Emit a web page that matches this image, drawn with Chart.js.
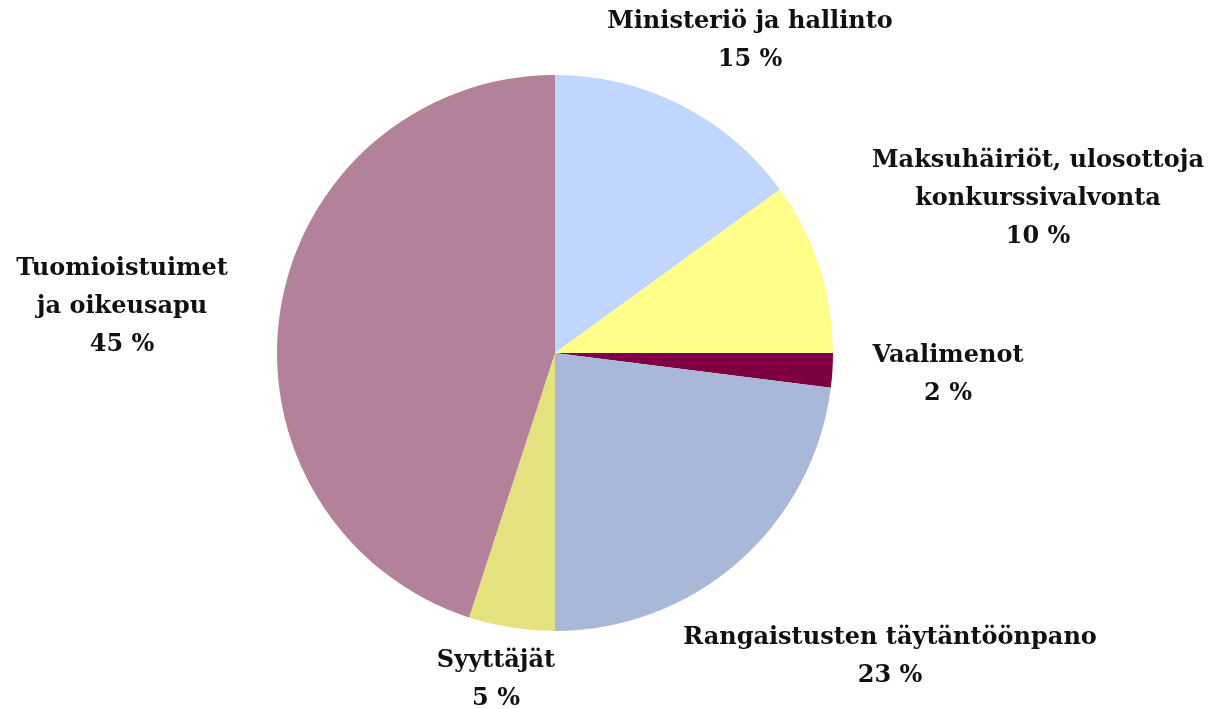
<!DOCTYPE html>
<html>
<head>
<meta charset="utf-8">
<script src="https://cdn.jsdelivr.net/npm/chart.js@4/dist/chart.umd.min.js"></script>
<style>
  html, body { margin:0; padding:0; background:#fff; }
  #wrap { width:1217px; height:709px; position:relative; }
</style>
</head>
<body>
<div id="wrap"><canvas id="pie"></canvas></div>
<script>
// ---- data ----
const categories = [
  ['Ministeriö ja hallinto'],
  ['Maksuhäiriöt, ulosottoja', 'konkurssivalvonta'],
  ['Vaalimenot'],
  ['Rangaistusten täytäntöönpano'],
  ['Syyttäjät'],
  ['Tuomioistuimet', 'ja oikeusapu']
];
const shares = [15, 10, 2, 23, 5, 45];
const colors = ['#C0D6FE', '#FFFF8A', '#7F0040', '#A9B8D9', '#E3E27F', '#B3819A'];

// label centres (x, y of first line)
const labelPos = [[750, 22], [1038, 161], [948, 356], [890, 638], [496, 661], [122, 269]];
const lineGap = 38;

const labelPlugin = {
  id: 'outerLabels',
  afterDraw(chart) {
    const ctx = chart.ctx;
    ctx.save();
    ctx.font = 'bold 24px "DejaVu Serif", serif';
    ctx.fillStyle = '#111';
    ctx.textAlign = 'center';
    ctx.textBaseline = 'middle';
    categories.forEach((lines, i) => {
      const [x, y] = labelPos[i];
      const all = lines.concat([shares[i] + ' %']);
      all.forEach((t, j) => ctx.fillText(t, x, y + j * lineGap));
    });
    ctx.restore();
  }
};

new Chart(document.getElementById('pie'), {
  type: 'pie',
  data: {
    labels: categories.map(l => l.join(' ')),
    datasets: [{ data: shares, backgroundColor: colors, borderWidth: 0 }]
  },
  options: {
    responsive: true,
    maintainAspectRatio: false,
    animation: false,
    layout: { padding: { left: 277, right: 384, top: 75, bottom: 78 } },
    plugins: { legend: { display: false }, tooltip: { enabled: false } }
  },
  plugins: [labelPlugin]
});
</script>
</body>
</html>
